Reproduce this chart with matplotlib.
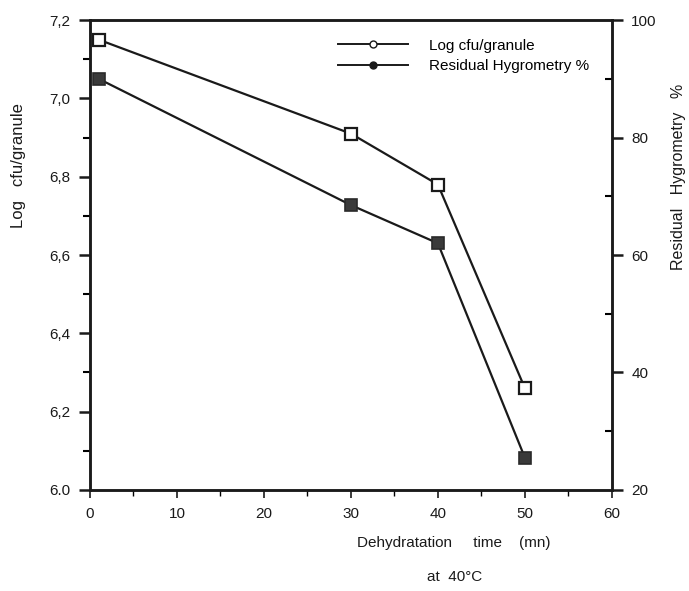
import matplotlib
matplotlib.use("Agg")
import matplotlib.pyplot as plt
from matplotlib.ticker import MultipleLocator, FixedLocator, FixedFormatter
from matplotlib.lines import Line2D

# Data
time_min = [1, 30, 40, 50]
log_cfu = [7.15, 6.91, 6.78, 6.26]
hygrometry = [90, 68.5, 62, 25.5]

left_ticks = [6.0, 6.2, 6.4, 6.6, 6.8, 7.0, 7.2]
left_labels = ["6.0", "6,2", "6,4", "6,6", "6,8", "7,0", "7,2"]
right_ticks = [20, 40, 60, 80, 100]
right_labels = ["20", "40", "60", "80", "100"]
x_ticks = [0, 10, 20, 30, 40, 50, 60]
x_labels = ["0", "10", "20", "30", "40", "50", "60"]

plt.rcParams['font.family'] = ['Liberation Sans', 'DejaVu Sans']

fig = plt.figure(figsize=(6.89, 5.91), dpi=100)
ax = fig.add_axes([0.1306, 0.171, 0.7574, 0.795])
ax2 = ax.twinx()

ax.set_xlim(0, 60)
ax.set_ylim(6.0, 7.2)
ax2.set_ylim(20, 100)

c = '#1a1a1a'
ax.plot(time_min, log_cfu, color=c, lw=1.6, marker='s', ms=9,
        mfc='white', mec=c, mew=1.6, zorder=3)
ax2.plot(time_min, hygrometry, color=c, lw=1.6, marker='s', ms=9,
         mfc='#3a3a3a', mec='#2a2a2a', mew=1.2, zorder=3)

for a in (ax, ax2):
    for s in a.spines.values():
        s.set_linewidth(1.8)
        s.set_color(c)

ax.xaxis.set_major_locator(FixedLocator(x_ticks))
ax.xaxis.set_major_formatter(FixedFormatter(x_labels))
ax.xaxis.set_minor_locator(MultipleLocator(5))
ax.yaxis.set_major_locator(FixedLocator(left_ticks))
ax.yaxis.set_major_formatter(FixedFormatter(left_labels))
ax.yaxis.set_minor_locator(MultipleLocator(0.1))
ax2.yaxis.set_major_locator(FixedLocator(right_ticks))
ax2.yaxis.set_major_formatter(FixedFormatter(right_labels))
ax2.yaxis.set_minor_locator(MultipleLocator(10))

ax.tick_params(axis='x', which='major', direction='out', length=6, width=1.2,
               labelsize=11, pad=6, colors=c)
ax.tick_params(axis='x', which='minor', direction='out', length=4, width=1.0)
ax.tick_params(axis='y', which='major', direction='out', length=8, width=1.8,
               labelsize=11, pad=6, colors=c)
ax.tick_params(axis='y', which='minor', direction='out', length=5, width=1.5)
ax2.tick_params(axis='y', which='major', direction='out', length=8, width=1.8,
                labelsize=11, pad=6, colors=c)
ax2.tick_params(axis='y', which='minor', direction='in', length=5, width=1.5)

fig.text(0.027, 0.72, "Log   cfu/granule", rotation=90, ha='center', va='center',
         fontsize=12, color=c)
fig.text(0.985, 0.70, "Residual   Hygrometry   %", rotation=90, ha='center', va='center',
         fontsize=11.5, color=c)
fig.text(0.658, 0.081, "Dehydratation     time    (mn)", ha='center', va='center',
         fontsize=11, color=c)
fig.text(0.66, 0.024, "at  40°C", ha='center', va='center', fontsize=11, color=c)

handles = [
    Line2D([], [], color=c, lw=1.4, marker='o', ms=5, mfc='white', mec=c),
    Line2D([], [], color=c, lw=1.4, marker='o', ms=5, mfc=c, mec=c),
]
ax.legend(handles, ["Log cfu/granule", "Residual Hygrometry %"],
          loc='upper left', bbox_to_anchor=(0.448, 0.99), frameon=False,
          fontsize=11, handlelength=4.6, handletextpad=1.4, labelspacing=0.45)

fig.savefig("out.png", dpi=100)
